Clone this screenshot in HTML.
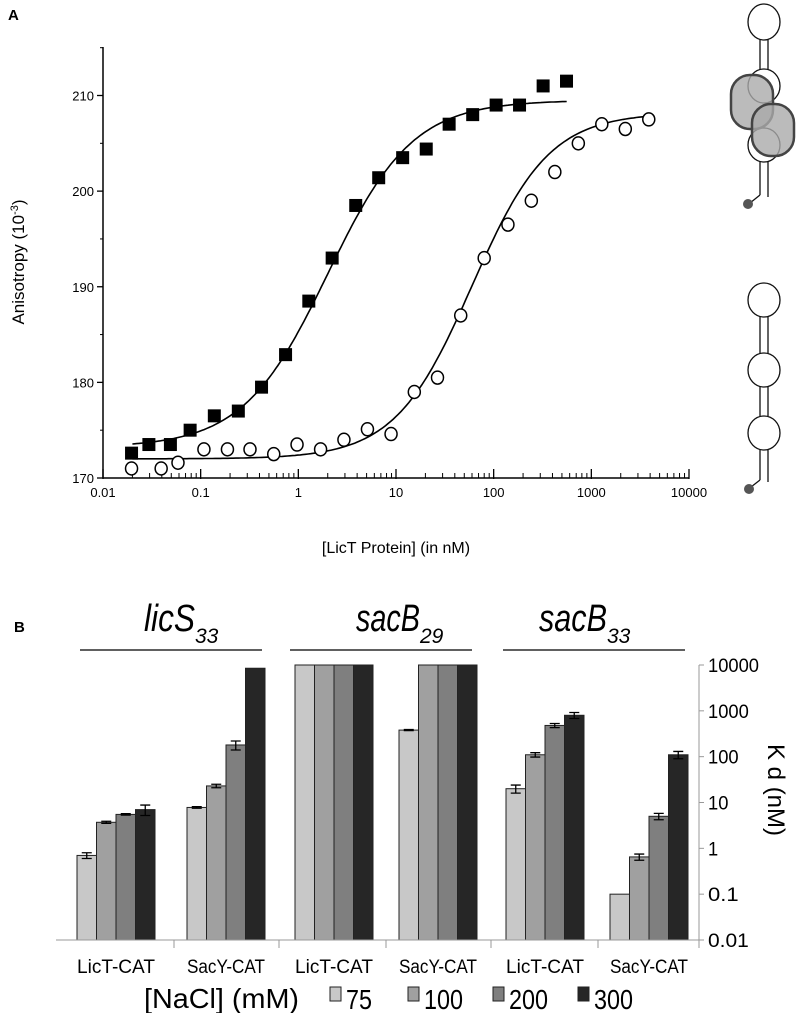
<!DOCTYPE html>
<html><head><meta charset="utf-8"><style>
html,body{margin:0;padding:0;background:#fff;}
svg{display:block;font-family:"Liberation Sans",sans-serif;}
</style></head><body>
<svg id="fig" width="800" height="1013" viewBox="0 0 800 1013">
<text x="8" y="20" font-size="15" font-weight="bold">A</text>
<g id="chartA"></g>
<g id="diagrams" fill="none" stroke="#111" stroke-width="1.3">
  <g>
    <line x1="760" y1="39" x2="760" y2="70"/><line x1="768" y1="39" x2="768" y2="70"/>
    <ellipse cx="764" cy="22" rx="16" ry="18" fill="#fff"/>
    <ellipse cx="764" cy="86" rx="16" ry="17"/>
    <ellipse cx="764" cy="145" rx="16" ry="17"/>
    <line x1="760" y1="161" x2="760" y2="195"/><line x1="768" y1="161" x2="768" y2="197"/>
    <line x1="760" y1="195" x2="750" y2="203"/>
    <rect x="731" y="75" width="42" height="54" rx="19" fill="#aaa" fill-opacity="0.8" stroke="#444" stroke-width="2.5"/>
    <rect x="752" y="104" width="42" height="52" rx="19" fill="#aaa" fill-opacity="0.8" stroke="#444" stroke-width="2.5"/>
    <circle cx="748" cy="204" r="5" fill="#555" stroke="none"/>
  </g>
  <g>
    <line x1="760" y1="316" x2="760" y2="354"/><line x1="768" y1="316" x2="768" y2="354"/>
    <line x1="760" y1="386" x2="760" y2="416"/><line x1="768" y1="386" x2="768" y2="416"/>
    <line x1="760" y1="450" x2="760" y2="480"/><line x1="768" y1="450" x2="768" y2="482"/>
    <ellipse cx="764" cy="300" rx="16" ry="17"/>
    <ellipse cx="764" cy="370" rx="16" ry="17"/>
    <ellipse cx="764" cy="433" rx="16" ry="17"/>
    <line x1="760" y1="480" x2="751" y2="487"/>
    <circle cx="749" cy="489" r="5" fill="#555" stroke="none"/>
  </g>
</g>
<text x="14" y="632" font-size="15" font-weight="bold">B</text>
<g id="chartB"></g>
</svg>
<script>
// ---- Panel A data ----
const sqX = [0.0196,0.0295,0.049,0.078,0.138,0.243,0.42,0.74,1.28,2.22,3.87,6.65,11.7,20.4,35,61,106,184,321,557];
const sqY = [172.6,173.5,173.5,175.0,176.5,177.0,179.5,182.9,188.5,193.0,198.5,201.4,203.5,204.4,207.0,208.0,209.0,209.0,211.0,211.5];
const ciX = [0.0196,0.0394,0.0586,0.108,0.188,0.32,0.56,0.97,1.69,2.93,5.1,8.9,15.4,26.6,46,80,140,243,423,736,1280,2228,3873];
const ciY = [171.0,171.0,171.6,173.0,173.0,173.0,172.5,173.5,173.0,174.0,175.1,174.6,179.0,180.5,187.0,193.0,196.5,199.0,202.0,205.0,207.0,206.5,207.5];
const sqFit = [173.2,209.5,2.0,1.0,0.02,560];
const ciFit = [172.0,208.2,60,1.1,0.02,3900];
const xTicksA = [0.01,0.1,1,10,100,1000,10000];
const xTickLabelsA = ["0.01","0.1","1","10","100","1000","10000"];
const yTicksA = [170,180,190,200,210];

// ---- Panel B data ----
const groups = ["LicT-CAT","SacY-CAT","LicT-CAT","SacY-CAT","LicT-CAT","SacY-CAT"];
const kd75  = [0.7, 7.8, 10000, 380, 20, 0.1];
const kd100 = [3.7, 23, 10000, 10000, 110, 0.65];
const kd200 = [5.5, 180, 10000, 10000, 480, 5];
const kd300 = [7, 8500, 10000, 10000, 800, 110];
const err75  = [0.1, 0.3, 0, 10, 4, 0];
const err100 = [0.2, 2, 0, 0, 12, 0.1];
const err200 = [0.2, 40, 0, 0, 50, 0.8];
const err300 = [1.8, 0, 0, 0, 120, 20];
const yTicksB = [0.01,0.1,1,10,100,1000,10000];
const yTickLabelsB = ["0.01","0.1","1","10","100","1000","10000"];
const saltLabels = ["75","100","200","300"];
const constructs = ["licS","sacB","sacB"];
const constructSubs = ["33","29","33"];

const NS = "http://www.w3.org/2000/svg";
function mk(parent, tag, attrs, text){
  const e = document.createElementNS(NS, tag);
  for (const k in attrs) e.setAttribute(k, attrs[k]);
  if (text !== undefined) e.textContent = text;
  parent.appendChild(e); return e;
}

// ---- Panel A ----
(function(){
  const g = document.getElementById('chartA');
  const x0 = 103, x1 = 689, y0 = 478, y1 = 95.5;
  const X = v => x0 + (Math.log10(v) + 2) / 6 * (x1 - x0);
  const Y = v => y0 - (v - 170) / 40 * (y0 - y1);
  let e;
  e = mk(g,'line',{x1:x0,y1:y0,x2:x1,y2:y0,stroke:'#000','stroke-width':1.5});
   
  e = mk(g,'line',{x1:x0,y1:y0,x2:x0,y2:47,stroke:'#000','stroke-width':1.5});
   
  for (let d = -2; d < 4; d++) for (let m = 2; m < 10; m++) {
    const xx = X(m * Math.pow(10, d));
    mk(g,'line',{x1:xx,y1:y0,x2:xx,y2:y0-5,stroke:'#000','stroke-width':1});
  }
  xTicksA.forEach((t,i)=>{
    const xx = X(t);
    mk(g,'line',{x1:xx,y1:y0+1,x2:xx,y2:y0-9,stroke:'#000','stroke-width':1.3});
    e = mk(g,'text',{x:xx,y:y0+19,'font-size':13,'text-anchor':'middle'},xTickLabelsA[i]);
     
  });
  for (let v = 175; v <= 215; v += 10) { const yy = Y(v); mk(g,'line',{x1:x0-3,y1:yy,x2:x0,y2:yy,stroke:'#000'}); }
  yTicksA.forEach(t=>{
    const yy = Y(t);
    mk(g,'line',{x1:x0-6,y1:yy,x2:x0,y2:yy,stroke:'#000','stroke-width':1.3});
    e = mk(g,'text',{x:x0-9,y:yy+5,'font-size':13,'text-anchor':'end'},String(t));
     
  });
  e = mk(g,'text',{x:396,y:553,'font-size':16,'text-anchor':'middle'},'[LicT Protein] (in nM)');
   
  e = mk(g,'text',{transform:'translate(24,262) rotate(-90)','font-size':17,'text-anchor':'middle'});
   
  e.innerHTML = 'Anisotropy (10<tspan dy="-6" font-size="11">-3</tspan><tspan dy="6">)</tspan>';
  function fit(p, name){
    const [b,t,K,n,lo,hi] = p; let d='';
    for (let i=0;i<=200;i++){
      const lx = Math.log10(lo) + (Math.log10(hi)-Math.log10(lo))*i/200;
      const x = Math.pow(10,lx);
      const y = b + (t-b)/(1+Math.pow(K/x,n));
      d += (i?'L':'M') + X(x).toFixed(1) + ',' + Y(y).toFixed(1);
    }
    const el = mk(g,'path',{d:d,fill:'none',stroke:'#000','stroke-width':1.6});
     
  }
  fit(sqFit,'fit-curve-squares'); fit(ciFit,'fit-curve-circles');
  sqX.forEach((x,i)=>{
    const el = mk(g,'rect',{x:X(x)-6.5,y:Y(sqY[i])-6.5,width:13,height:13,fill:'#000'});
     
  });
  ciX.forEach((x,i)=>{
    const el = mk(g,'ellipse',{cx:X(x),cy:Y(ciY[i]),rx:6,ry:6.5,fill:'#fff',stroke:'#000','stroke-width':1.5});
     
  });
})();

// ---- Panel B ----
(function(){
  const g = document.getElementById('chartB');
  const yTop = 665, yBot = 940, axX = 699, baseL = 56;
  const Y = v => yBot - (Math.log10(v) + 2) / 6 * (yBot - yTop);
  const groupStart = [77,187,295,399,506,610];
  const bw = 19.5;
  const fills = ['#c8c8c8','#a0a0a0','#7f7f7f','#262626'];
  const vals = [kd75,kd100,kd200,kd300];
  const errs = [err75,err100,err200,err300];
  let e;
  groups.forEach((gname,gi)=>{
    for (let s=0;s<4;s++){
      const v = vals[s][gi], x = groupStart[gi] + s*bw, yy = Y(v);
      e = mk(g,'rect',{x:x,y:yy,width:bw,height:yBot-yy,fill:fills[s],stroke:'#222','stroke-width':1});
       
      const er = errs[s][gi];
      if (er > 0) {
        const cx = x + bw/2, ya = Y(v+er), yb = Y(Math.max(v-er, v*0.3));
        e = mk(g,'path',{d:`M${cx-5},${ya}H${cx+5}M${cx},${ya}V${yb}M${cx-5},${yb}H${cx+5}`,stroke:'#000','stroke-width':1.3,fill:'none'});
         
      }
    }
    e = mk(g,'text',{x:groupStart[gi]+2*bw,y:973,'font-size':19,'text-anchor':'middle',textLength:78,lengthAdjust:'spacingAndGlyphs'},gname);
     
  });
  e = mk(g,'line',{x1:baseL,y1:yBot,x2:axX,y2:yBot,stroke:'#999','stroke-width':1});
   
  [174,279,386,491,598].forEach(x=>mk(g,'line',{x1:x,y1:yBot,x2:x,y2:yBot+8,stroke:'#999'}));
  e = mk(g,'line',{x1:axX,y1:yTop,x2:axX,y2:yBot+8,stroke:'#999','stroke-width':1});
   
  yTicksB.forEach((t,i)=>{
    const yy = Y(t);
    mk(g,'line',{x1:axX,y1:yy,x2:axX+5,y2:yy,stroke:'#999'});
    e = mk(g,'text',{x:axX+9,y:yy+7,'font-size':19,textLength:yTickLabelsB[i].length*10.2,lengthAdjust:'spacingAndGlyphs'},yTickLabelsB[i]);
     
  });
  e = mk(g,'text',{transform:'translate(768,790) rotate(90)','font-size':24,'text-anchor':'middle'},'K d (nM)');
   
  const startX = [144,356,539], baseW = [51,64,68], lines = [[80,262],[290,472],[503,685]];
  constructs.forEach((c,i)=>{
    e = mk(g,'text',{x:startX[i],y:631,'font-size':38,'font-style':'italic'});
     
    e.innerHTML = '<tspan textLength="'+baseW[i]+'" lengthAdjust="spacingAndGlyphs">'+c+'</tspan><tspan dy="12" font-size="21">' + constructSubs[i] + '</tspan>';
    e = mk(g,'line',{x1:lines[i][0],y1:650,x2:lines[i][1],y2:650,stroke:'#000','stroke-width':1.3});
     
  });
  e = mk(g,'text',{x:144,y:1008,'font-size':28,textLength:155,lengthAdjust:'spacingAndGlyphs'},'[NaCl] (mM)');
   
  const lx = [330,408,493,578];
  saltLabels.forEach((s,i)=>{
    e = mk(g,'rect',{x:lx[i],y:987,width:11,height:14,fill:fills[i],stroke:'#222'});
     
    e = mk(g,'text',{x:lx[i]+16,y:1009,'font-size':28,textLength:s.length*13,lengthAdjust:'spacingAndGlyphs'},s);
     
  });
})();
</script>
</body></html>
